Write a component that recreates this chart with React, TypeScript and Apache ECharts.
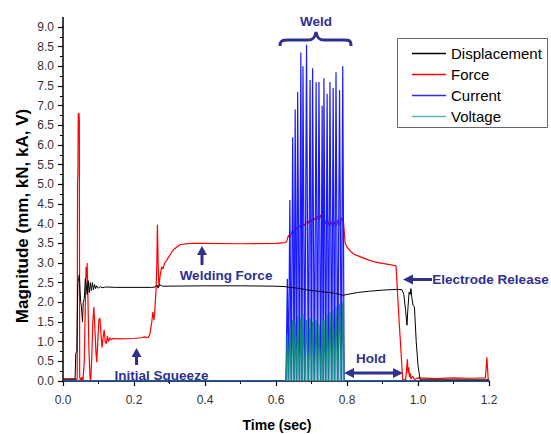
import React, { useEffect, useRef } from 'react';
import * as echarts from 'echarts';

const seriesNames = ['Displacement', 'Force', 'Current', 'Voltage'];

const displacement: number[][] = [
  [0, 0.05], [0.034, 0.05], [0.036, 0.7], [0.039, 0.75], [0.04, 1.5], [0.042, 2.5], [0.044, 2.6],
  [0.046, 2.7], [0.048, 2.3], [0.05, 2.0], [0.052, 1.9], [0.055, 1.5], [0.057, 2.0], [0.06, 2.1],
  [0.063, 2.6], [0.066, 2.4], [0.068, 2.2], [0.071, 2.55], [0.074, 2.25], [0.077, 2.5], [0.08, 2.3],
  [0.083, 2.5], [0.086, 2.32], [0.089, 2.45], [0.092, 2.35], [0.095, 2.42], [0.1, 2.36], [0.105, 2.4],
  [0.11, 2.37], [0.12, 2.39], [0.15, 2.38], [0.2, 2.38], [0.25, 2.38], [0.26, 2.39], [0.265, 2.44],
  [0.268, 2.36], [0.272, 2.45], [0.28, 2.41], [0.4, 2.42], [0.5, 2.42], [0.6, 2.41], [0.625, 2.4],
  [0.64, 2.38], [0.66, 2.36], [0.68, 2.33], [0.7, 2.3], [0.72, 2.28], [0.74, 2.26], [0.76, 2.24],
  [0.78, 2.2], [0.79, 2.18], [0.8, 2.2], [0.83, 2.25], [0.86, 2.28], [0.9, 2.31], [0.94, 2.33],
  [0.955, 2.32], [0.96, 2.2], [0.965, 1.8], [0.969, 1.42], [0.972, 1.9], [0.975, 2.26], [0.978, 2.2],
  [0.98, 2.35], [0.983, 2.1], [0.986, 1.93], [0.99, 1.88], [0.995, 1.0], [1.0, 0.4], [1.006, 0.03],
  [1.2, 0.03],
];

const force: number[][] = [
  [0, 0.05], [0.035, 0.05], [0.038, 0.0], [0.04, 0.1], [0.041, 5.0], [0.042, 5.3], [0.043, 6.8],
  [0.045, 6.8], [0.046, 6.6], [0.047, 0.1], [0.05, 0.0], [0.053, 0.1], [0.056, 0.0], [0.06, 0.5],
  [0.063, 2.0], [0.065, 2.9], [0.067, 2.6], [0.068, 3.0], [0.07, 2.2], [0.073, 0.8], [0.076, 0.1],
  [0.078, 0.0], [0.081, 0.6], [0.084, 1.5], [0.087, 1.88], [0.09, 1.3], [0.093, 0.7], [0.095, 0.48],
  [0.098, 1.0], [0.101, 1.55], [0.104, 1.6], [0.107, 1.2], [0.11, 0.85], [0.113, 1.1], [0.116, 1.3],
  [0.119, 1.0], [0.122, 0.95], [0.125, 1.15], [0.128, 1.0], [0.132, 1.1], [0.136, 1.05], [0.14, 1.08],
  [0.16, 1.07], [0.2, 1.08], [0.22, 1.1], [0.23, 1.12], [0.24, 1.1], [0.245, 1.2], [0.25, 1.5],
  [0.253, 1.75], [0.256, 1.55], [0.258, 1.7], [0.262, 2.3], [0.264, 2.87], [0.266, 3.97], [0.268, 3.0],
  [0.27, 2.4], [0.274, 2.7], [0.278, 2.9], [0.282, 2.85], [0.286, 3.0], [0.293, 3.08], [0.31, 3.33],
  [0.33, 3.47], [0.36, 3.5], [0.4, 3.5], [0.5, 3.49], [0.6, 3.5], [0.626, 3.52], [0.63, 3.55],
  [0.635, 3.7], [0.64, 3.65], [0.645, 3.8], [0.65, 3.75], [0.655, 3.9], [0.66, 3.85], [0.665, 3.95],
  [0.67, 3.9], [0.675, 4.0], [0.68, 3.95], [0.685, 4.05], [0.69, 4.0], [0.695, 4.1], [0.7, 4.05],
  [0.705, 4.15], [0.71, 4.1], [0.715, 4.2], [0.72, 4.1], [0.725, 4.22], [0.73, 4.05], [0.735, 4.15],
  [0.74, 4.0], [0.745, 4.1], [0.75, 3.95], [0.755, 4.05], [0.76, 3.9], [0.765, 4.05], [0.77, 3.95],
  [0.775, 4.1], [0.78, 3.95], [0.785, 4.15], [0.79, 4.05], [0.795, 3.5], [0.8, 3.4], [0.81, 3.3],
  [0.82, 3.22], [0.84, 3.15], [0.86, 3.08], [0.88, 3.02], [0.9, 2.99], [0.92, 2.96], [0.938, 2.93],
  [0.947, 1.5], [0.957, 0.03], [0.965, 0.03], [0.968, 0.3], [0.97, 0.55], [0.972, 0.2], [0.974, 0.35],
  [0.976, 0.1], [0.978, 0.2], [0.98, 0.05], [0.985, 0.12], [0.99, 0.04], [1.0, 0.08], [1.05, 0.06],
  [1.1, 0.08], [1.15, 0.07], [1.19, 0.08], [1.194, 0.6], [1.196, 0.3], [1.198, 0.0], [1.2, 0.0],
];

const current: number[][] = [
  [0, 0], [0.628, 0], [0.632, 2.6], [0.635, 0], [0.639, 4.6], [0.643, 0], [0.647, 6.2], [0.651, 0],
  [0.654, 6.9], [0.658, 0], [0.661, 7.35], [0.666, 0], [0.67, 8.35], [0.673, 0], [0.676, 8.0],
  [0.681, 0], [0.686, 8.55], [0.691, 0], [0.696, 7.65], [0.7, 0], [0.703, 7.95], [0.708, 0],
  [0.713, 7.6], [0.717, 0], [0.721, 7.6], [0.726, 0], [0.73, 7.0], [0.733, 0], [0.735, 7.7],
  [0.74, 0], [0.744, 7.3], [0.748, 0], [0.752, 7.6], [0.757, 0], [0.761, 7.45], [0.765, 0],
  [0.769, 7.85], [0.774, 0], [0.779, 7.4], [0.784, 0], [0.788, 8.0], [0.792, 0], [1.2, 0],
];

const voltage: number[][] = [
  [0, 0], [0.628, 0], [0.632, 1.2], [0.635, 0], [0.639, 1.4], [0.643, 0], [0.647, 1.55], [0.651, 0],
  [0.654, 1.5], [0.658, 0], [0.661, 1.65], [0.666, 0], [0.67, 1.6], [0.673, 0], [0.676, 1.7],
  [0.681, 0], [0.686, 1.55], [0.691, 0], [0.696, 1.6], [0.7, 0], [0.703, 1.5], [0.708, 0],
  [0.713, 1.55], [0.717, 0], [0.721, 1.45], [0.726, 0], [0.73, 1.6], [0.733, 0], [0.735, 1.55],
  [0.74, 0], [0.744, 1.7], [0.748, 0], [0.752, 1.75], [0.757, 0], [0.761, 1.8], [0.765, 0],
  [0.769, 1.9], [0.774, 0], [0.779, 1.95], [0.784, 0], [0.788, 2.0], [0.792, 0], [1.2, 0],
];

const xLabel = 'Time (sec)';
const yLabel = 'Magnitude (mm, kN, kA, V)';
const annotations = ['Weld', 'Welding Force', 'Initial Squeeze', 'Hold', 'Electrode Release'];

const NAVY = '#30318f';
const FONT = 'Arial, "Liberation Sans", sans-serif';

echarts.graphic.registerShape(
  'brace',
  echarts.graphic.extendPath(
    'M280,46 C280,41 282,40 288,40 L308,40 C313,40 315,38 316,32 C317,38 319,40 324,40 L344,40 C350,40 351,41 351,46',
    {}
  )
);

export default function App() {
  const ref = useRef<HTMLDivElement>(null);
  useEffect(() => {
    if (!ref.current) return;
    const chart = echarts.init(ref.current, undefined, { renderer: 'svg' });
    const annText = (text: string, x: number, y: number) => ({
      type: 'text', x, y, z: 10,
      style: { text, fill: NAVY, font: `bold 13.5px ${FONT}`, align: 'center', verticalAlign: 'middle' },
    });
    const poly = (points: number[][]) => ({ type: 'polygon', z: 10, shape: { points }, style: { fill: NAVY } });
    const bar = (x: number, y: number, width: number, height: number) => ({
      type: 'rect', z: 10, shape: { x, y, width, height }, style: { fill: NAVY },
    });
    chart.setOption({
      animation: false,
      backgroundColor: '#ffffff',
      grid: { left: 63, top: 27, width: 426, height: 354, containLabel: false },
      legend: {
        data: seriesNames,
        orient: 'vertical',
        left: 412,
        top: 46,
        padding: 0,
        itemGap: 6,
        itemWidth: 34,
        itemHeight: 1.5,
        icon: 'rect',
        selectedMode: false,
        z: 20,
        textStyle: { fontSize: 15, color: '#000', fontFamily: FONT },
      },
      xAxis: {
        type: 'value', min: 0, max: 1.2, interval: 0.2,
        axisLine: { lineStyle: { color: '#000', width: 1.5 } },
        axisTick: { length: 5, lineStyle: { color: '#000', width: 1.2 } },
        minorTick: { show: true, splitNumber: 2, length: 3, lineStyle: { color: '#000', width: 1 } },
        splitLine: { show: false },
        axisLabel: { formatter: (v: number) => v.toFixed(1), color: '#333', fontSize: 12, fontFamily: FONT, margin: 13 },
      },
      yAxis: {
        type: 'value', min: 0, max: 9, interval: 0.5,
        axisLine: { show: true, lineStyle: { color: '#000', width: 1.5 } },
        axisTick: { show: true, length: 5, lineStyle: { color: '#000', width: 1.2 } },
        minorTick: { show: true, splitNumber: 2, length: 3, lineStyle: { color: '#000', width: 1 } },
        splitLine: { show: false },
        axisLabel: { formatter: (v: number) => v.toFixed(1), color: '#333', fontSize: 12, fontFamily: FONT, margin: 9 },
      },
      series: [
        {
          name: 'Displacement', type: 'line', data: displacement, showSymbol: false, z: 6,
          color: '#000000', lineStyle: { color: '#000000', width: 1 },
        },
        {
          name: 'Force', type: 'line', data: force, showSymbol: false, z: 3,
          color: '#ff0000', lineStyle: { color: '#ff0000', width: 1.2 },
        },
        {
          name: 'Current', type: 'line', data: current, showSymbol: false, z: 4,
          color: '#2b2bff', lineStyle: { color: '#1a1aff', width: 1.2 },
          areaStyle: { color: 'rgba(110,110,255,0.55)' },
        },
        {
          name: 'Voltage', type: 'line', data: voltage, showSymbol: false, z: 5,
          color: '#5fb5b5', lineStyle: { color: '#128585', width: 1.2 },
          areaStyle: { color: 'rgba(110,195,190,0.7)' },
        },
      ],
      graphic: [
        { type: 'line', z: 1, shape: { x1: 63, y1: 17, x2: 63, y2: 27.5 }, style: { stroke: '#000', lineWidth: 1.5 } },
        { type: 'rect', z: 1, shape: { x: 397.5, y: 38.5, width: 150, height: 89 }, style: { fill: '#fff', stroke: '#666', lineWidth: 1 } },
        {
          type: 'text', x: 22, y: 216, rotation: Math.PI / 2, z: 10,
          style: { text: yLabel, fill: '#000', font: `bold 17px ${FONT}`, align: 'center', verticalAlign: 'middle' },
        },
        {
          type: 'text', x: 277, y: 425, z: 10,
          style: { text: xLabel, fill: '#000', font: `bold 14px ${FONT}`, align: 'center', verticalAlign: 'middle' },
        },
        annText(annotations[0], 316, 21),
        { type: 'brace', x: 0, y: 0, z: 10, style: { fill: 'none', stroke: NAVY, lineWidth: 3 } },
        annText(annotations[1], 226, 275),
        bar(200.5, 254, 3, 11),
        poly([[197, 255], [207, 255], [202, 246]]),
        annText(annotations[2], 161.5, 375),
        bar(135, 356, 3, 9),
        poly([[131.5, 357], [141.5, 357], [136.5, 348]]),
        annText(annotations[3], 371, 358),
        bar(352, 371.5, 43, 3),
        poly([[344, 373], [354, 368], [354, 378]]),
        poly([[403, 373], [393, 368], [393, 378]]),
        annText(annotations[4], 490.5, 279),
        bar(412, 278, 20, 3),
        poly([[403, 279.5], [413, 274.5], [413, 284.5]]),
      ],
    });
    return () => chart.dispose();
  }, []);
  return <div ref={ref} style={{ position: 'fixed', left: 0, top: 0, width: 551, height: 434 }} />;
}
